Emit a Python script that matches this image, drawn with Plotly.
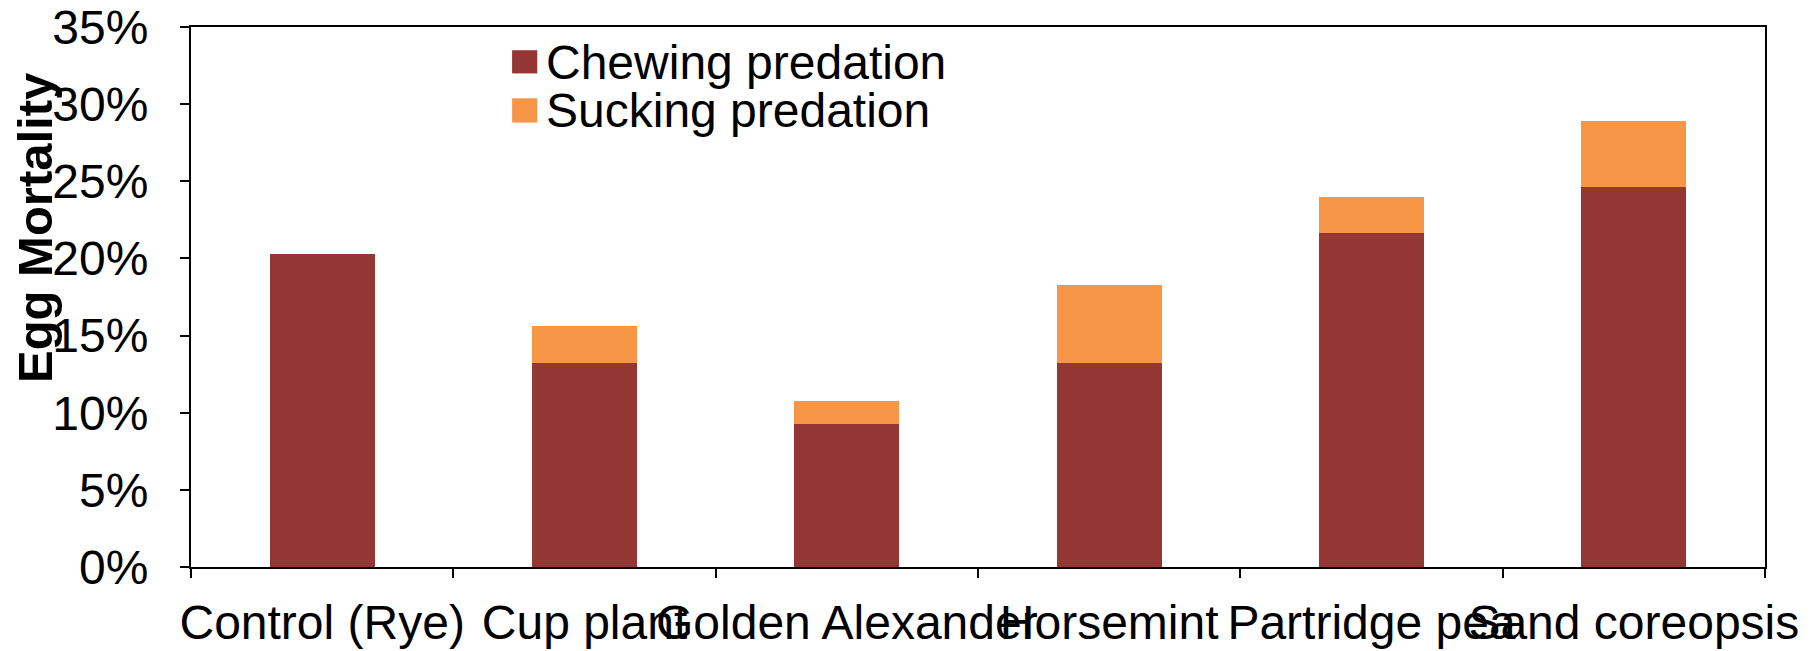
import plotly.graph_objects as go

categories = ["Control (Rye)", "Cup plant", "Golden Alexander", "Horsemint", "Partridge pea", "Sand coreopsis"]
chewing = [0.203, 0.132, 0.093, 0.132, 0.2165, 0.2465]
sucking = [0.0, 0.024, 0.0145, 0.051, 0.023, 0.0425]
series_names = ["Chewing predation", "Sucking predation"]
series_colors = ["#943634", "#F79646"]
y_ticks = [0, 0.05, 0.10, 0.15, 0.20, 0.25, 0.30, 0.35]

FONT = "Liberation Sans, Arial, sans-serif"
FS = 48

fig = go.Figure()
for name, vals, col in zip(series_names, [chewing, sucking], series_colors):
    fig.add_trace(go.Bar(x=categories, y=vals, name=name, marker=dict(color=col, line=dict(width=0)),
                         width=0.4, showlegend=False))

# manual legend (large square swatches)
legend_rows = [(0.957, 0.914, 0.935), (0.868, 0.823, 0.846)]
for (y1, y0, yc), name, col in zip(legend_rows, series_names, series_colors):
    fig.add_shape(type="rect", xref="paper", yref="paper", x0=0.204, x1=0.220, y0=y0, y1=y1,
                  fillcolor=col, line=dict(width=0))
    fig.add_annotation(xref="paper", yref="paper", x=0.2245, y=yc, xanchor="left", yanchor="middle",
                       text=name, showarrow=False, font=dict(family=FONT, size=FS, color="black"))

fig.add_annotation(xref="paper", yref="paper", x=-0.099, y=0.628, xanchor="center", yanchor="middle",
                   text="<b>Egg Mortality</b>", textangle=-90, showarrow=False,
                   font=dict(family=FONT, size=49, color="black"))

fig.update_layout(
    barmode="stack",
    width=1816, height=651,
    margin=dict(l=183, r=59, t=19, b=92, autoexpand=False),
    plot_bgcolor="white", paper_bgcolor="white",
    font=dict(family=FONT, size=FS, color="black"),
    bargap=0.6,
)
fig.update_xaxes(showline=True, linecolor="black", linewidth=2, mirror=True,
                 ticks="outside", tickson="boundaries", ticklen=9, tickwidth=2, tickcolor="black",
                 tickangle=0, showgrid=False, tickfont=dict(family=FONT, size=FS, color="black"),
                 ticklabelstandoff=12, ticklabeloverflow="allow")
fig.update_yaxes(range=[0, 0.35], tickvals=y_ticks, tickformat=".0%", showline=True, linecolor="black",
                 linewidth=2, mirror=True, ticks="outside", ticklen=9, tickwidth=2, tickcolor="black",
                 showgrid=False, zeroline=False, tickfont=dict(family=FONT, size=FS, color="black"),
                 ticklabelstandoff=22, ticklabeloverflow="allow")

fig.write_html("out.html")
